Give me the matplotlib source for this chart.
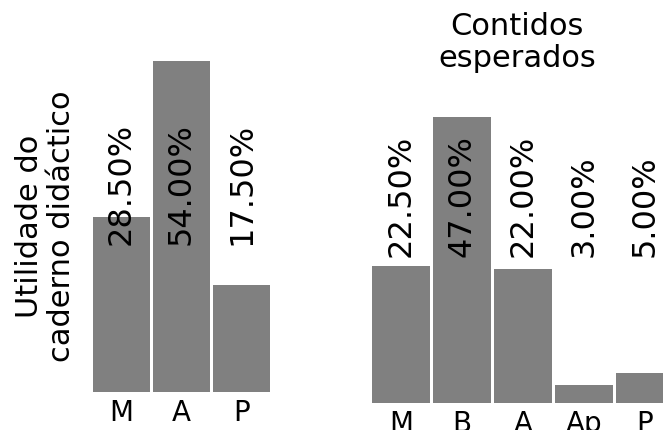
import numpy as np
import matplotlib
matplotlib.use("Agg")
import matplotlib.pyplot as plt

# left panel: utilidade do caderno didactico
util_cats = ["M", "A", "P"]
util_vals = [28.5, 54.0, 17.5]

# right panel: contidos esperados
cont_cats = ["M", "B", "A", "Ap", "P"]
cont_vals = [22.5, 47.0, 22.0, 3.0, 5.0]

bar_color = "#808080"
label_y = 24  # value labels all start at the same height

fig = plt.figure(figsize=(6.63, 4.30), dpi=100)

ax1 = fig.add_axes([0.138, 0.088, 0.2715, 0.770])
x1 = np.arange(len(util_cats))
ax1.bar(x1, util_vals, width=0.95, color=bar_color)
for xi, v in zip(x1, util_vals):
    ax1.text(xi, label_y, f"{v:.2f}%", rotation=90, ha="center", va="bottom",
             fontsize=23, color="black")
ax1.set_xlim(-0.5, len(util_cats) - 0.5)
ax1.set_ylim(0, max(util_vals))
ax1.set_xticks(x1)
ax1.set_xticklabels(util_cats, fontsize=20)
ax1.set_yticks([])
ax1.tick_params(axis="x", length=0, pad=5)
ax1.set_ylabel("Utilidade do\ncaderno didáctico", fontsize=22, labelpad=11,
               linespacing=1.15)
for s in ax1.spines.values():
    s.set_visible(False)

ax2 = fig.add_axes([0.5588, 0.0628, 0.46, 0.665])
x2 = np.arange(len(cont_cats))
ax2.bar(x2, cont_vals, width=0.94, color=bar_color)
for xi, v in zip(x2, cont_vals):
    ax2.text(xi, label_y, f"{v:.2f}%", rotation=90, ha="center", va="bottom",
             fontsize=23, color="black")
ax2.set_xlim(-0.5, len(cont_cats) - 0.5)
ax2.set_ylim(0, max(cont_vals))
ax2.set_xticks(x2)
ax2.set_xticklabels(cont_cats, fontsize=20)
ax2.set_yticks([])
ax2.tick_params(axis="x", length=0, pad=5)
ax2.set_title("Contidos\nesperados", fontsize=22, pad=36, linespacing=1.15,
              x=0.48)
for s in ax2.spines.values():
    s.set_visible(False)

fig.savefig("out.png", dpi=100)
